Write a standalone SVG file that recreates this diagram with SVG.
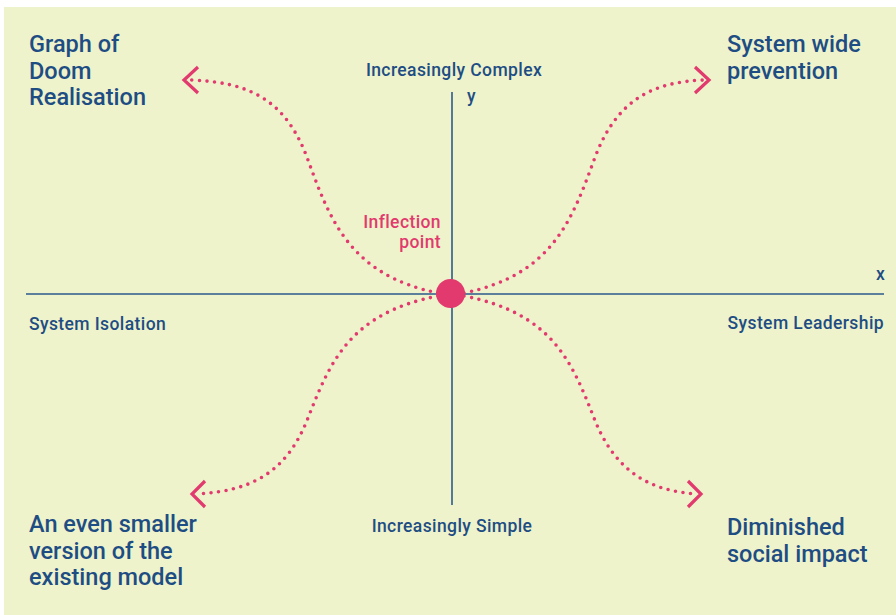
<svg xmlns="http://www.w3.org/2000/svg" width="896" height="615" viewBox="0 0 896 615">
  <style>
    .bg { fill: #eef3cb; }
    .axis { stroke: #2b5a8b; stroke-width: 1.6; fill: none; }
    .curve { stroke: #e23a6e; stroke-width: 3.6; fill: none; stroke-linecap: round; stroke-dasharray: 0 7.6; }
    .head { stroke: #e23a6e; stroke-width: 3.2; fill: none; stroke-linejoin: miter; stroke-linecap: butt; }
    .corner { font-family: Roboto, "Liberation Sans", sans-serif; font-weight: 500; font-size: 23.5px; fill: #1e4d84; }
    .label { font-family: Roboto, "Liberation Sans", sans-serif; font-weight: 500; font-size: 17.5px; letter-spacing: 0.4px; fill: #1e4d84; }
    .pink { font-family: Roboto, "Liberation Sans", sans-serif; font-weight: 500; font-size: 17.5px; letter-spacing: 0.4px; fill: #e23a6e; }
  </style>

  <rect class="bg" x="4" y="7" width="892" height="608"/>

  <!-- axes -->
  <g id="axes">
    <line class="axis" x1="26" y1="294" x2="884" y2="294"/>
    <line class="axis" x1="452" y1="92" x2="452" y2="505"/>
    <text class="label" x="876" y="280">x</text>
    <text class="label" x="467" y="102">y</text>
  </g>

  <!-- dotted connectors from the inflection point -->
  <g id="connectors">
    <path class="curve" d="M438,293 C350,275 330,220 308,160 S250,82 190,80"/>
    <path class="curve" d="M464,293 C552,275 572,220 594,160 S652,82 704,80"/>
    <path class="curve" d="M438,296 C350,313 330,362 308,418 S250,491 197,494"/>
    <path class="curve" d="M464,296 C552,313 572,362 594,418 S652,491 697,494"/>
    <polyline class="head" points="198,67 184,80 198,93"/>
    <polyline class="head" points="695,67 709,80 695,93"/>
    <polyline class="head" points="205,481 192,494 205,507"/>
    <polyline class="head" points="688,481 701,494 688,507"/>
  </g>

  <g id="inflection">
    <circle cx="450.5" cy="293.5" r="14.5" fill="#e23a6e"/>
    <text class="pink" x="441" y="228" text-anchor="end">Inflection</text>
    <text class="pink" x="441" y="248" text-anchor="end">point</text>
  </g>

  <g id="top-label">
    <text class="label" x="454" y="76" text-anchor="middle">Increasingly Complex</text>
  </g>
  <g id="bottom-label">
    <text class="label" x="452" y="532" text-anchor="middle">Increasingly Simple</text>
  </g>
  <g id="left-label">
    <text class="label" x="29" y="330">System Isolation</text>
  </g>
  <g id="right-label">
    <text class="label" x="884" y="329" text-anchor="end">System Leadership</text>
  </g>

  <g id="doom">
    <text class="corner" x="29" y="52">Graph of</text>
    <text class="corner" x="29" y="78.5">Doom</text>
    <text class="corner" x="29" y="105">Realisation</text>
  </g>
  <g id="prevention">
    <text class="corner" x="727" y="52">System wide</text>
    <text class="corner" x="727" y="78.5">prevention</text>
  </g>
  <g id="smaller">
    <text class="corner" x="29" y="532">An even smaller</text>
    <text class="corner" x="29" y="558.5">version of the</text>
    <text class="corner" x="29" y="585">existing model</text>
  </g>
  <g id="impact">
    <text class="corner" x="727" y="535">Diminished</text>
    <text class="corner" x="727" y="561.5">social impact</text>
  </g>
</svg>
